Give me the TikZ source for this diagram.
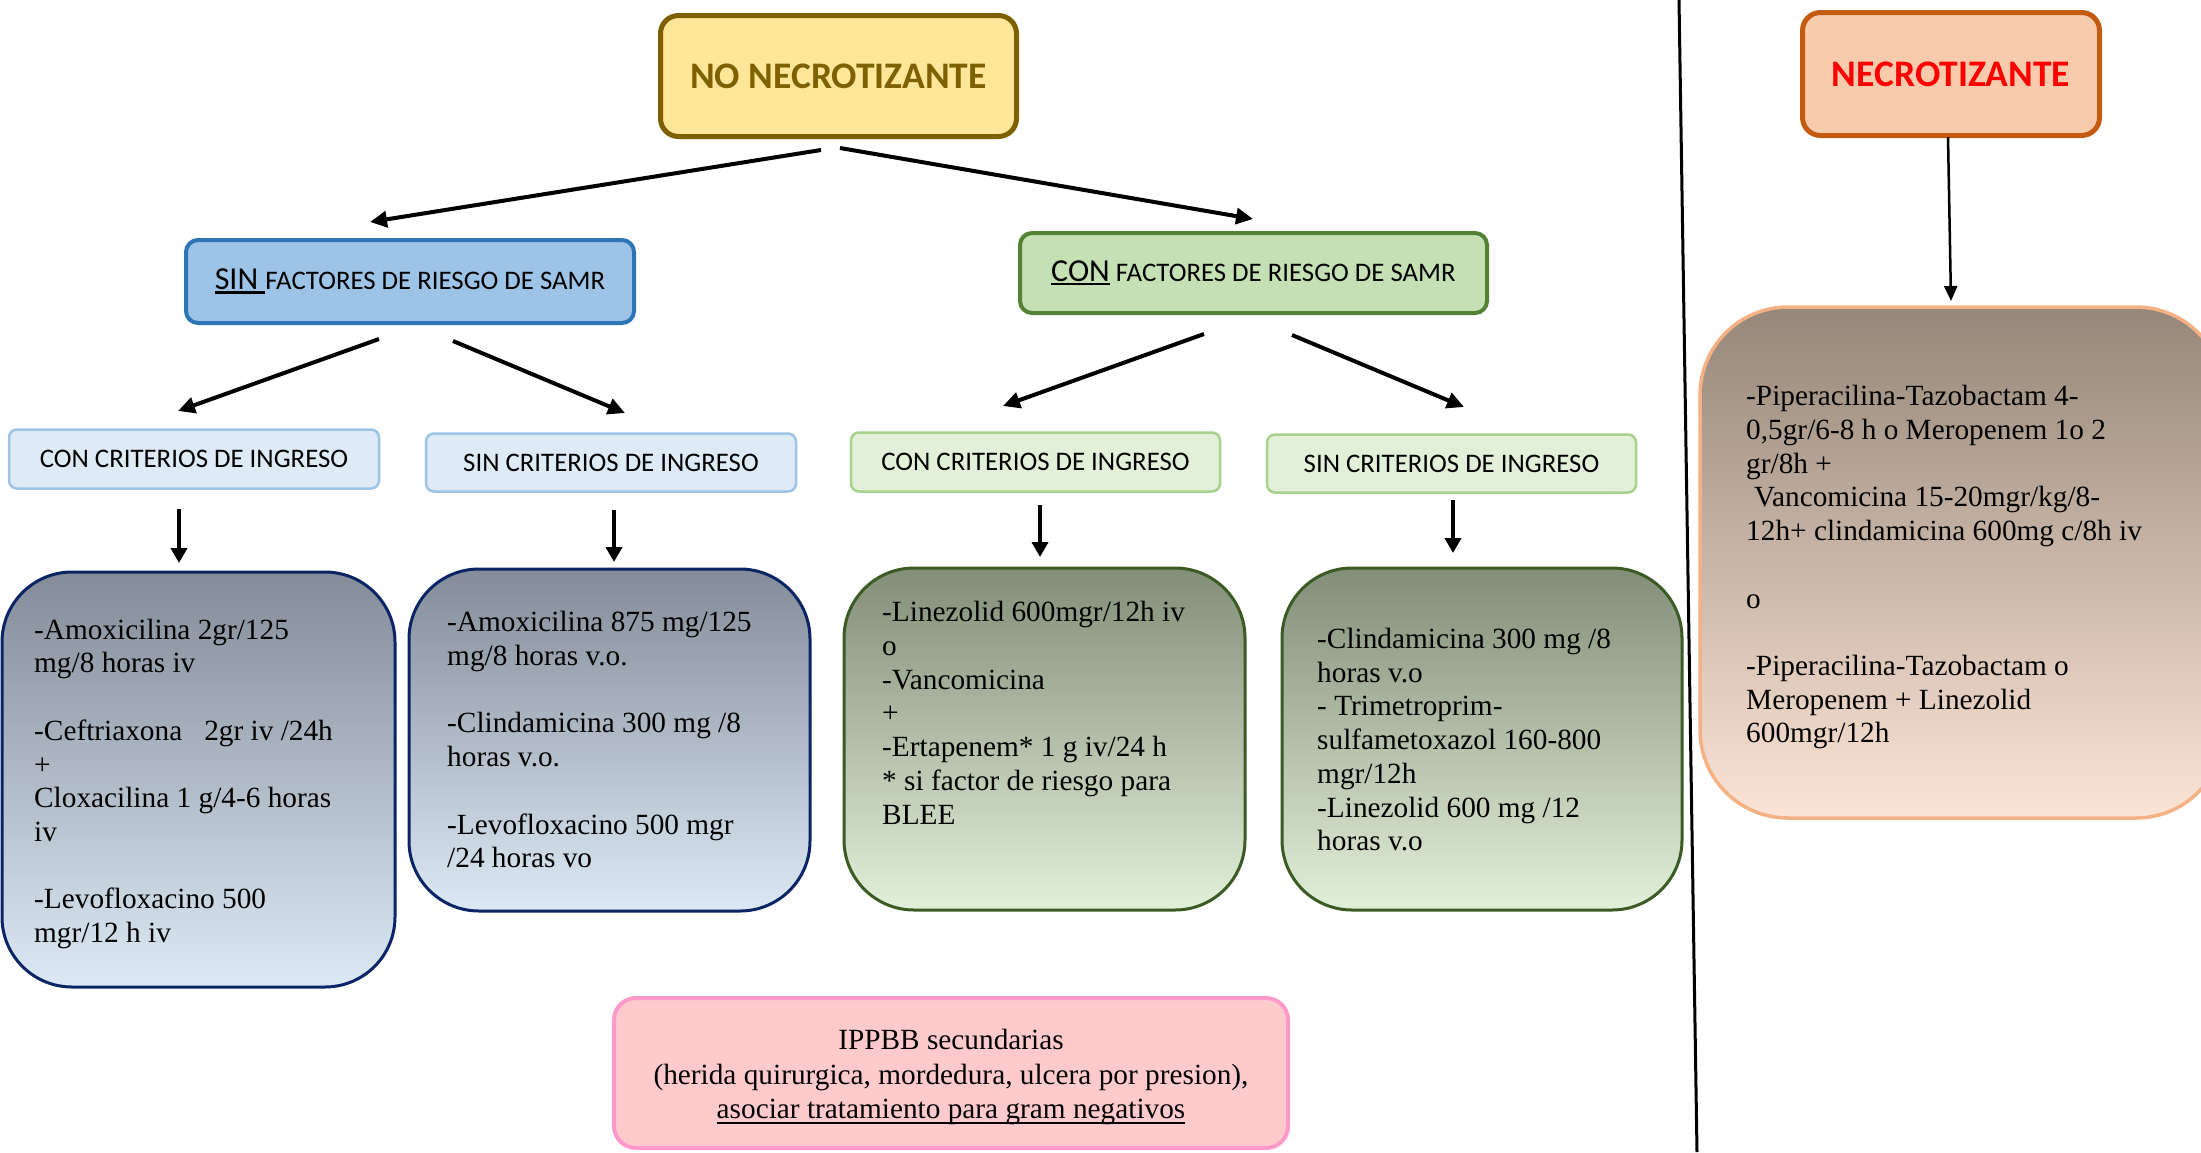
\documentclass[tikz,border=0pt]{standalone}
\usepackage{fontspec}
\setmainfont{Liberation Serif}
\newfontfamily\carl{Carlito}
\usetikzlibrary{arrows.meta,calc}
\definecolor{nnfill}{HTML}{FFE699}
\definecolor{nndraw}{HTML}{7F6000}
\definecolor{sinfill}{HTML}{9DC3E6}
\definecolor{sindraw}{HTML}{2E75B6}
\definecolor{confill}{HTML}{C5E0B4}
\definecolor{condraw}{HTML}{548235}
\definecolor{lbfill}{HTML}{DEEBF7}
\definecolor{lbdraw}{HTML}{9DC3E6}
\definecolor{lgfill}{HTML}{E2F0D9}
\definecolor{lgdraw}{HTML}{A9D18E}
\definecolor{btop}{HTML}{838C98}
\definecolor{bbot}{HTML}{DCE9F5}
\definecolor{bdraw}{HTML}{0A2466}
\definecolor{gtop}{HTML}{838E79}
\definecolor{gbot}{HTML}{E2EFD9}
\definecolor{gdraw}{HTML}{3B5A24}
\definecolor{necfill}{HTML}{F8CBAD}
\definecolor{necdraw}{HTML}{C55A11}
\definecolor{etop}{HTML}{958779}
\definecolor{ebot}{HTML}{FCE4D6}
\definecolor{edraw}{HTML}{F4B183}
\definecolor{pkfill}{HTML}{FFCACB}
\definecolor{pkdraw}{HTML}{FF99CC}
\newcommand\myul[3]{\setbox0=\hbox{#3}\leavevmode\rlap{\rule[-#1]{\wd0}{#2}}\box0}
\tikzset{
  arr/.style={line width=4pt, -{Triangle[length=17pt,width=16pt]}},
  varr/.style={line width=3.7pt, -{Triangle[length=15pt,width=16pt]}},
  titlebox/.style={draw, rounded corners=18pt, line width=5pt, inner sep=0,
    font=\carl\bfseries\fontsize{37.5}{42}\selectfont},
  lvltwo/.style={draw, rounded corners=12pt, line width=4pt, inner sep=0,
    font=\carl\fontsize{26.8}{32}\selectfont},
  lvlthree/.style={draw, rounded corners=8pt, line width=2.5pt, inner sep=0,
    font=\carl\fontsize{26.8}{32}\selectfont},
  lvlfour/.style={draw, rounded corners=70pt, line width=3pt, inner sep=0},
  medtext/.style={inner sep=0, anchor=north west, align=left,
    font=\fontsize{29.3}{33.7}\selectfont},
}
\begin{document}
\begin{tikzpicture}[x=1pt,y=-1pt]
\clip (0,0) rectangle (2201,1152);
\fill[white] (0,0) rectangle (2201,1152);

% divider
\coordinate (divtop) at (1679,0);
\coordinate (divbot) at (1697,1152);
\draw[line width=3pt] (divtop) -- (divbot);

% title boxes
\node[titlebox, fill=nnfill, draw=nndraw, text=nndraw, minimum width=356pt, minimum height=121pt]
  (nn) at (838.5,76) {NO NECROTIZANTE};
\node[titlebox, fill=necfill, draw=necdraw, text=red, minimum width=297pt, minimum height=123pt]
  (nec) at (1951,74) {NECROTIZANTE};

% level two
\node[lvltwo, fill=sinfill, draw=sindraw, minimum width=448pt, minimum height=83pt]
  (sin) at (410,281.5) {\myul{4pt}{2.7pt}{\fontsize{32}{36}\selectfont SIN\ }FACTORES DE RIESGO DE SAMR};
\node[lvltwo, fill=confill, draw=condraw, minimum width=467pt, minimum height=80pt]
  (con) at (1253.5,273) {\myul{4pt}{2.7pt}{\fontsize{32}{36}\selectfont CON}\ FACTORES DE RIESGO DE SAMR};

% level three
\node[lvlthree, fill=lbfill, draw=lbdraw, minimum width=370pt, minimum height=59pt]
  (c1) at (194,459) {CON CRITERIOS DE INGRESO};
\node[lvlthree, fill=lbfill, draw=lbdraw, minimum width=370pt, minimum height=58pt]
  (s1) at (611,462.5) {SIN CRITERIOS DE INGRESO};
\node[lvlthree, fill=lgfill, draw=lgdraw, minimum width=369pt, minimum height=59pt]
  (c2) at (1035.5,462) {CON CRITERIOS DE INGRESO};
\node[lvlthree, fill=lgfill, draw=lgdraw, minimum width=369pt, minimum height=58pt]
  (s2) at (1451.5,463.5) {SIN CRITERIOS DE INGRESO};

% level four boxes
\node[lvlfour, top color=btop, bottom color=bbot, draw=bdraw, minimum width=393pt, minimum height=415pt]
  (ba) at (198.5,779.5) {};
\node[lvlfour, top color=btop, bottom color=bbot, draw=bdraw, minimum width=401pt, minimum height=342pt]
  (bb) at (609.5,740) {};
\node[lvlfour, top color=gtop, bottom color=gbot, draw=gdraw, minimum width=401pt, minimum height=342pt]
  (bc) at (1044.5,739) {};
\node[lvlfour, top color=gtop, bottom color=gbot, draw=gdraw, minimum width=400pt, minimum height=342pt]
  (bd) at (1482,739) {};
\node[lvlfour, rounded corners=88pt, line width=3.5pt, top color=etop, bottom color=ebot, draw=edraw,
  minimum width=524pt, minimum height=511pt]
  (be) at (1962,562.5) {};

% level four texts
\node[medtext] (ta) at (34,615.4) {\strut-Amoxicilina 2gr/125\\
mg/8 horas iv\\[33.7pt]
-Ceftriaxona\ \ \ 2gr iv /24h\\
+\\
Cloxacilina 1 g/4-6 horas\\
iv\\[33.7pt]
-Levofloxacino 500\\
mgr/12 h iv};
\node[medtext] (tb) at (447,608) {\strut-Amoxicilina 875 mg/125\\
mg/8 horas v.o.\\[33.7pt]
-Clindamicina 300 mg /8\\
horas v.o.\\[33.7pt]
-Levofloxacino 500 mgr\\
/24 horas vo};
\node[medtext] (tc) at (882,598) {\strut-Linezolid 600mgr/12h iv\\
o\\
-Vancomicina\\
+\\
-Ertapenem* 1 g iv/24 h\\
* si factor de riesgo para\\
BLEE};
\node[medtext] (td) at (1317,624.7) {\strut-Clindamicina 300 mg /8\\
horas v.o\\
- Trimetroprim-\\
sulfametoxazol 160-800\\
mgr/12h\\
-Linezolid 600 mg /12\\
horas v.o};
\node[medtext] (te) at (1746,382) {\strut-Piperacilina-Tazobactam 4-\\
0,5gr/6-8 h o Meropenem 1o 2\\
gr/8h +\\
\hspace*{8pt}Vancomicina 15-20mgr/kg/8-\\
12h+ clindamicina 600mg c/8h iv\\[33.7pt]
o\\[33.7pt]
-Piperacilina-Tazobactam o\\
Meropenem + Linezolid\\
600mgr/12h};

% pink box
\node[draw=pkdraw, fill=pkfill, rounded corners=22pt, line width=4pt, minimum width=674pt, minimum height=150pt]
  (pk) at (951,1073) {};
\node[inner sep=0, anchor=north, align=center, font=\fontsize{29.3}{34.5}\selectfont]
  (tpk) at (951,1025.5) {\strut IPPBB secundarias\\
(herida quirurgica, mordedura, ulcera por presion),\\
\myul{5pt}{2pt}{asociar tratamiento para gram negativos}};

% connectors
\coordinate (a1s) at (821,150);  \coordinate (a1e) at (370,222);
\coordinate (a2s) at (840,148);  \coordinate (a2e) at (1253,219);
\coordinate (a3s) at (379,339);  \coordinate (a3e) at (178,411);
\coordinate (a4s) at (453,341);  \coordinate (a4e) at (625,413);
\coordinate (a5s) at (1204,334); \coordinate (a5e) at (1003,406);
\coordinate (a6s) at (1292,335); \coordinate (a6e) at (1464,407);
\coordinate (v1s) at (179,509);  \coordinate (v1e) at (179,563);
\coordinate (v2s) at (614,510);  \coordinate (v2e) at (614,562);
\coordinate (v3s) at (1040,505); \coordinate (v3e) at (1040,557);
\coordinate (v4s) at (1453,500); \coordinate (v4e) at (1453,553);
\coordinate (n1s) at (1948,137); \coordinate (n1e) at (1951,301);

\draw[arr] (a1s) -- (a1e);
\draw[arr] (a2s) -- (a2e);
\draw[arr] (a3s) -- (a3e);
\draw[arr] (a4s) -- (a4e);
\draw[arr] (a5s) -- (a5e);
\draw[arr] (a6s) -- (a6e);
\draw[varr] (v1s) -- (v1e);
\draw[varr] (v2s) -- (v2e);
\draw[varr] (v3s) -- (v3e);
\draw[varr] (v4s) -- (v4e);
\draw[line width=2.5pt, -{Triangle[length=15pt,width=13pt]}] (n1s) -- (n1e);
\end{tikzpicture}
\end{document}
